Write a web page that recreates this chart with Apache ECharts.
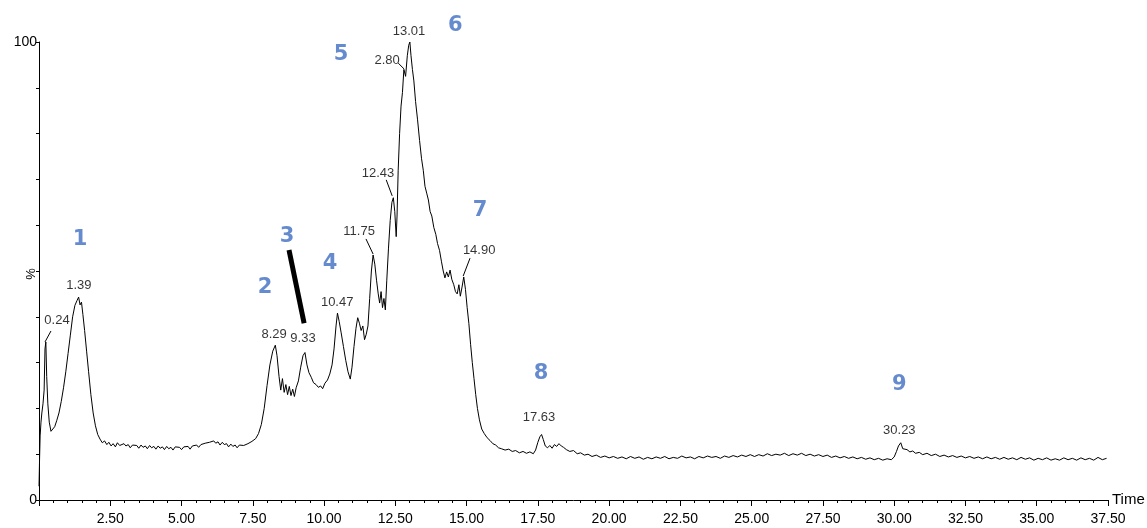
<!DOCTYPE html>
<html><head><meta charset="utf-8">
<script src="https://cdn.jsdelivr.net/npm/echarts@6/dist/echarts.min.js"></script>
<style>html,body{margin:0;padding:0;background:#fff}#c{width:1147px;height:528px}</style>
</head><body><div id="c"></div>
<script>
// ---- data: [time (min), relative intensity (%)] ----
const traceEarly = [[0.00,3],[0.02,9],[0.04,14],[0.07,17],[0.10,19],[0.14,21],[0.18,24],[0.21,33],[0.24,34.5],[0.27,27],[0.31,21],[0.36,17],[0.42,15],[0.48,15.4],[0.55,16],[0.62,17.3],[0.70,19],[0.78,21.5],[0.86,24.5],[0.94,28],[1.02,32],[1.10,36],[1.18,40],[1.26,42.5],[1.33,43.5],[1.39,44.3],[1.44,42.6],[1.49,43.2],[1.54,40.5],[1.60,37],[1.67,32.5],[1.74,28],[1.82,23],[1.90,19],[1.98,16.2],[2.06,14.3],[2.14,13.3],[2.22,12.5],[2.30,12.9],[2.38,12.1]];
const traceBase1 = [[2.45,12.6],[2.53,11.8],[2.60,12.3],[2.68,11.6],[2.75,12.5],[2.83,11.9],[2.90,11.5],[2.98,12.3],[3.05,11.8],[3.13,12.1],[3.20,11.4],[3.28,12.0],[3.35,11.6],[3.43,11.9],[3.50,11.3],[3.58,12.0],[3.65,11.5],[3.73,11.8],[3.80,11.2],[3.88,11.9],[3.95,11.4],[4.03,11.7],[4.10,11.1],[4.18,11.8],[4.25,11.3],[4.33,11.6],[4.40,11.0],[4.48,11.7],[4.55,11.2],[4.63,11.5],[4.70,10.9],[4.78,11.6],[4.85,11.2],[4.93,11.5],[5.00,11.0],[5.08,11.6],[5.15,11.3],[5.23,11.7],[5.30,11.1],[5.38,11.8],[5.45,11.4],[5.53,12.0],[5.60,11.5],[5.68,12.1],[5.75,11.8],[5.83,12.4],[5.90,12.0],[5.98,12.6],[6.05,12.2],[6.13,12.9],[6.20,12.4],[6.28,12.7],[6.35,12.0],[6.43,12.6],[6.50,12.1],[6.58,12.3],[6.65,11.6],[6.73,12.2],[6.80,11.7],[6.88,12.0],[6.95,11.4],[7.03,12.0],[7.10,11.6],[7.18,11.9],[7.25,11.5],[7.33,12.3],[7.40,12.0],[7.47,12.8],[7.53,12.5],[7.60,13.4]];
const traceMain = [[7.70,14.5],[7.80,16.5],[7.90,20],[8.00,25],[8.10,29.5],[8.20,32.5],[8.29,33.8],[8.35,31.5],[8.42,27],[8.48,24],[8.54,26.5],[8.60,23.5],[8.66,25.2],[8.72,23],[8.78,24.8],[8.84,22.8],[8.90,24.2],[8.96,22.6],[9.02,24.5],[9.10,26],[9.18,29],[9.26,31.5],[9.33,32.2],[9.40,29.5],[9.47,27.8],[9.55,26.8],[9.63,25.6],[9.72,25.2],[9.80,24.6],[9.88,24.9],[9.95,24.3],[10.03,25.5],[10.12,26.2],[10.20,27.5],[10.28,29.5],[10.35,33],[10.42,38],[10.47,40.8],[10.53,39],[10.60,36.5],[10.68,33.5],[10.76,30.5],[10.84,28],[10.92,26.4],[10.98,29],[11.05,33.5],[11.12,37.5],[11.18,39.8],[11.24,38.6],[11.30,37],[11.36,38],[11.42,35],[11.48,36.2],[11.54,38],[11.60,44],[11.66,50],[11.72,53.5],[11.78,51.5],[11.84,48],[11.90,45],[11.95,43],[12.00,45.5],[12.05,42],[12.10,44],[12.15,41.5],[12.20,48],[12.26,55],[12.32,61],[12.38,65],[12.43,66],[12.48,63],[12.53,57.5],[12.56,62],[12.60,72],[12.65,80],[12.70,86],[12.75,89],[12.80,94],[12.86,92.5],[12.92,97],[12.97,99.3],[13.01,100],[13.05,97],[13.10,94],[13.15,91.5],[13.21,87],[13.28,83],[13.35,78.5],[13.42,74.5],[13.48,72],[13.54,68.5],[13.60,67],[13.66,65.5],[13.72,63],[13.78,62],[13.85,59.5],[13.92,58],[13.98,56],[14.05,54.5],[14.12,52],[14.18,50],[14.24,48.5],[14.30,49.8],[14.36,48.7],[14.42,50.2],[14.48,48.2],[14.55,47],[14.61,45.5],[14.67,45],[14.73,47],[14.78,44.5],[14.84,46.5],[14.90,48.7],[14.96,46],[15.02,42],[15.08,38.5],[15.14,34],[15.20,30],[15.26,26.5],[15.32,23],[15.38,20],[15.45,17.5],[15.53,15.5],[15.62,14.5],[15.72,13.6],[15.82,13],[15.92,12.3],[16.02,12],[16.12,11.4]];
const traceLate = [[16.22,11.2],[16.35,10.9],[16.48,11.1],[16.60,10.6],[16.72,10.8],[16.85,10.3],[16.98,10.6],[17.10,10.2],[17.22,10.5],[17.34,10.1],[17.42,10.9],[17.50,12.6],[17.57,13.8],[17.63,14.3],[17.69,13.2],[17.76,11.8],[17.84,11.4],[17.92,11.9],[18.00,11.3],[18.08,12.1],[18.16,11.7],[18.24,12.3],[18.32,11.8],[18.40,11.5],[18.50,11.0],[18.62,10.6],[18.75,10.8],[18.88,10.1],[19.00,10.3],[19.13,9.8],[19.26,10.0],[19.40,9.5],[19.55,9.8],[19.70,9.3],[19.85,9.6],[20.00,9.2],[20.15,9.5],[20.30,9.1],[20.45,9.4],[20.60,9.0],[20.75,9.5],[20.90,9.1],[21.05,9.4],[21.20,8.9],[21.35,9.3],[21.50,9.0],[21.65,9.4],[21.80,9.1],[21.95,9.5],[22.10,9.0],[22.25,9.3],[22.40,9.1],[22.55,9.6],[22.70,9.2],[22.85,9.4],[23.00,9.0],[23.15,9.5],[23.30,9.2],[23.45,9.6],[23.60,9.3],[23.75,9.5],[23.90,9.1],[24.05,9.6],[24.20,9.3],[24.35,9.7],[24.50,9.4],[24.65,9.8],[24.80,9.5],[24.95,9.9],[25.10,9.5],[25.25,9.9],[25.40,9.6],[25.55,10.1],[25.70,9.7],[25.85,10.0],[26.00,9.8],[26.15,10.2],[26.30,9.7],[26.45,10.1],[26.60,9.8],[26.75,10.2],[26.90,9.7],[27.05,10.0],[27.20,9.6],[27.35,9.9],[27.50,9.5],[27.65,9.8],[27.80,9.3],[27.95,9.6],[28.10,9.2],[28.25,9.5],[28.40,9.1],[28.55,9.4],[28.70,9.0],[28.85,9.3],[29.00,8.9],[29.15,9.2],[29.30,8.8],[29.45,9.1],[29.60,8.7],[29.75,9.0],[29.90,8.8],[30.00,9.4],[30.08,10.6],[30.15,11.8],[30.23,12.5],[30.30,11.2],[30.37,10.8],[30.45,11.0],[30.55,10.5],[30.65,10.7],[30.75,10.2],[30.88,10.4],[31.00,9.9],[31.15,10.2],[31.30,9.7],[31.45,10.0],[31.60,9.5],[31.75,9.8],[31.90,9.4],[32.05,9.7],[32.20,9.3],[32.35,9.6],[32.50,9.2],[32.65,9.5],[32.80,9.1],[32.95,9.4],[33.10,9.0],[33.25,9.4],[33.40,9.0],[33.55,9.3],[33.70,8.9],[33.85,9.3],[34.00,8.9],[34.15,9.2],[34.30,8.8],[34.45,9.3],[34.60,8.9],[34.75,9.2],[34.90,8.7],[35.05,9.1],[35.20,8.8],[35.35,9.2],[35.50,8.7],[35.65,9.0],[35.80,8.7],[35.95,9.2],[36.10,8.8],[36.25,9.1],[36.40,8.7],[36.55,9.2],[36.70,8.8],[36.85,9.1],[37.00,8.7],[37.15,9.3],[37.30,8.8],[37.45,9.1]];

// peak retention-time labels (text) and where the annotation sits (data coords)
const peakTags = ['0.24','1.39','8.29','9.33','10.47','11.75','12.43','2.80','13.01','14.90','17.63','30.23'];
const peakTagAt = [[0.63,39.3],[1.40,46.9],[8.25,36.2],[9.26,35.2],[10.46,43.2],[11.23,58.7],[11.89,71.4],[12.21,95.9],[12.98,102.4],[15.44,54.6],[17.54,18.1],[30.18,15.1]];
const leaderLines = [[[0.42,36.9],[0.21,34.5]],[[11.47,57.0],[11.72,53.7]],[[12.18,69.9],[12.39,66.4]],[[12.60,95.4],[12.81,94.1]],[[15.12,52.8],[14.88,48.9]]];
// blue peak numbers
const peakIds = ['1','2','3','4','5','6','7','8','9'];
const peakIdAt = [[1.44,56.8],[7.93,46.3],[8.70,57.6],[10.21,51.7],[10.60,97.2],[14.60,103.7],[15.47,63.3],[17.61,27.7],[30.18,25.1]];
const pointerLine = [[8.77,54.6],[9.30,38.6]];

// tick labels / axis titles
const xTickFmt = v => v === 0 ? '' : v.toFixed(2);
const yTickShown = [0, 100];
const yTitle = '%';
const xTitle = 'Time';

const trace = traceEarly.concat(traceBase1, traceMain, traceLate);
const FONT = '"Liberation Sans",Arial,sans-serif';
const ink = '#000';

const chart = echarts.init(document.getElementById('c'), null, {renderer:'canvas'});
chart.setOption({
  animation: false,
  backgroundColor: '#fff',
  grid: {left: 39, right: 39, top: 42, bottom: 28, containLabel: false, outerBoundsMode: 'none'},
  graphic: [{
    type: 'text', x: 31, y: 274, rotation: Math.PI / 2, silent: true,
    style: {text: yTitle, fill: ink, font: '13px ' + FONT, align: 'center', verticalAlign: 'middle'}
  }],
  xAxis: {
    type: 'value', min: 0, max: 37.5, interval: 2.5,
    name: xTitle, nameLocation: 'end', nameGap: 4,
    nameTextStyle: {fontSize: 15, color: ink, fontFamily: FONT},
    axisLine: {lineStyle: {color: ink, width: 1}},
    axisTick: {length: 6, lineStyle: {color: ink}},
    minorTick: {show: true, splitNumber: 5, length: 3, lineStyle: {color: ink}},
    splitLine: {show: false}, minorSplitLine: {show: false},
    axisLabel: {formatter: xTickFmt, color: ink, fontSize: 14, margin: 12, fontFamily: FONT}
  },
  yAxis: {
    type: 'value', min: 0, max: 100, interval: 10,
    axisLine: {show: true, lineStyle: {color: ink, width: 1}},
    axisTick: {show: true, length: 3, lineStyle: {color: ink}},
    splitLine: {show: false},
    axisLabel: {formatter: v => yTickShown.includes(v) ? String(v) : '', color: ink, fontSize: 14, margin: 2, fontFamily: FONT}
  },
  series: [
    {
      type: 'line', data: trace, showSymbol: false, symbol: 'none',
      lineStyle: {color: '#000', width: 1}, silent: true,
      markLine: {
        silent: true, symbol: ['none', 'none'], label: {show: false},
        data: leaderLines.map(l => [{coord: l[0], lineStyle: {color: ink, width: 1, type: 'solid'}}, {coord: l[1]}])
          .concat([[{coord: pointerLine[0], lineStyle: {color: '#000', width: 5, type: 'solid'}}, {coord: pointerLine[1]}]])
      }
    },
    {
      type: 'scatter', clip: false, silent: true, symbolSize: 1,
      itemStyle: {color: 'rgba(0,0,0,0)'},
      data: peakTagAt.map((p, i) => [p[0], p[1], peakTags[i]]),
      label: {show: true, position: 'inside', formatter: p => p.value[2], color: ink, fontSize: 13, fontFamily: FONT}
    },
    {
      type: 'scatter', clip: false, silent: true, symbolSize: 1,
      itemStyle: {color: 'rgba(0,0,0,0)'},
      data: peakIdAt.map((p, i) => [p[0], p[1], peakIds[i]]),
      label: {show: true, position: 'inside', formatter: p => p.value[2], color: '#3F6EC2', fontSize: 21, fontWeight: 'bold', fontFamily: '"DejaVu Sans",Verdana,sans-serif'}
    }
  ]
});
</script>
</body></html>
